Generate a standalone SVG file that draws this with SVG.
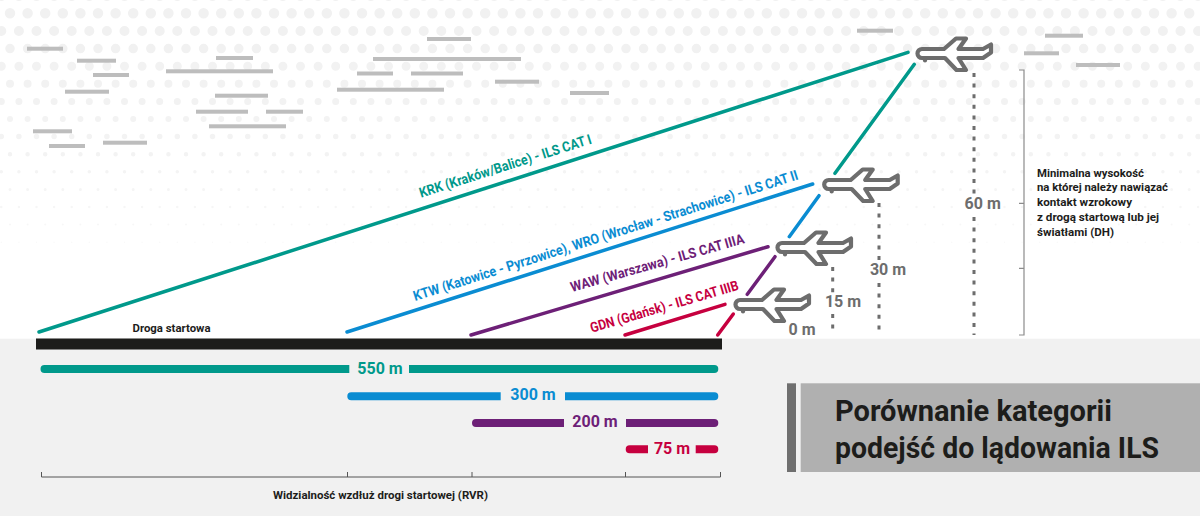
<svg xmlns="http://www.w3.org/2000/svg" width="1200" height="516" viewBox="0 0 1200 516">
<style>
text{font-family:"Roboto","Liberation Sans",sans-serif;font-weight:700}
.d{stroke-linecap:round;stroke-dasharray:0 17.6;fill:none}
.c{fill:#bdbdbd}
.l{stroke-width:3.5;stroke-linecap:round;fill:none}
.teal{stroke:#00998b}.blue{stroke:#0a8cd2}.purple{stroke:#6d2077}.red{stroke:#c6003f}
.ft{fill:#00998b}.fb{fill:#0a8cd2}.fp{fill:#6d2077}.fr{fill:#c6003f}
.lab{font-size:14px}
.val{font-size:16px;text-anchor:middle}
.h{font-size:16px;fill:#6d6d6d;text-anchor:middle}
.dk{fill:#1d1d1b}
.s{font-size:11px;fill:#1d1d1b}
.dash{stroke:#6d6d6d;stroke-width:3;stroke-dasharray:4 6.6;fill:none}
.ax{stroke:#555;stroke-width:1;fill:none}
.br{stroke:#8c8c8c;stroke-width:1.2;fill:none}
.plane{fill:#fff;stroke:#6d6d6d;stroke-width:4.2;stroke-linejoin:round;stroke-linecap:round}
</style>
<defs>
<g id="pl">
<path class="plane" d="M9 5V7.500"/>
<path class="plane" d="M6-4H28L40-14.500H50L42.500-4H67L75-8.500V-0.500L67 5H42.500L50 17H40.500L29 5H6A4.500 4.500 0 0 1 6-4Z"/>
</g>
</defs>
<rect width="1200" height="516" fill="#fff"/>
<g id="sky">
<line class="d" x1="1.300" y1="-4.300" x2="1200" y2="-4.300" stroke="#f1f1f1" stroke-width="10.500"/>
<line class="d" x1="10" y1="13.300" x2="1200" y2="13.300" stroke="#f1f1f1" stroke-width="10.500"/>
<line class="d" x1="1.300" y1="31" x2="1200" y2="31" stroke="#f1f1f1" stroke-width="10"/>
<line class="d" x1="10" y1="48.600" x2="1200" y2="48.600" stroke="#f1f1f1" stroke-width="9.500"/>
<line class="d" x1="1.300" y1="66.200" x2="1200" y2="66.200" stroke="#f2f2f2" stroke-width="9"/>
<line class="d" x1="10" y1="83.800" x2="1200" y2="83.800" stroke="#f2f2f2" stroke-width="8"/>
<line class="d" x1="1.300" y1="101.400" x2="1200" y2="101.400" stroke="#f2f2f2" stroke-width="7"/>
<line class="d" x1="10" y1="119" x2="1200" y2="119" stroke="#f3f3f3" stroke-width="6"/>
<line class="d" x1="1.300" y1="136.600" x2="1200" y2="136.600" stroke="#f3f3f3" stroke-width="5.500"/>
<line class="d" x1="10" y1="154.200" x2="1200" y2="154.200" stroke="#f3f3f3" stroke-width="4.500"/>
<line class="d" x1="1.300" y1="171.800" x2="1200" y2="171.800" stroke="#f4f4f4" stroke-width="3.500"/>
<line class="d" x1="10" y1="189.400" x2="1200" y2="189.400" stroke="#f5f5f5" stroke-width="3"/>
<line class="d" x1="1.300" y1="207" x2="1200" y2="207" stroke="#f6f6f6" stroke-width="2.500"/>
<line class="d" x1="10" y1="224.600" x2="1200" y2="224.600" stroke="#f7f7f7" stroke-width="2"/>
<line class="d" x1="1.300" y1="242.200" x2="1200" y2="242.200" stroke="#f9f9f9" stroke-width="1.500"/>
</g>
<g id="clouds">
<rect class="c" x="27" y="46.700" width="36" height="4"/><rect class="c" x="77" y="58.700" width="39" height="4"/>
<rect class="c" x="93" y="73" width="36" height="4"/><rect class="c" x="65" y="89.700" width="44" height="4"/>
<rect class="c" x="166" y="69.300" width="107" height="4"/><rect class="c" x="216" y="56" width="37" height="4"/>
<rect class="c" x="215" y="93.700" width="53" height="4"/><rect class="c" x="196" y="109.700" width="52" height="4"/>
<rect class="c" x="266" y="109.700" width="37" height="4"/><rect class="c" x="209" y="124.300" width="77" height="4"/>
<rect class="c" x="33" y="129.300" width="39" height="4"/><rect class="c" x="49" y="144" width="36" height="4"/>
<rect class="c" x="103" y="140.700" width="44" height="4"/><rect class="c" x="427" y="37" width="44" height="4"/>
<rect class="c" x="373" y="57" width="148" height="4"/><rect class="c" x="357" y="71.500" width="36" height="4"/>
<rect class="c" x="411" y="71.500" width="52" height="4"/><rect class="c" x="337" y="87.700" width="107" height="4"/>
<rect class="c" x="495" y="79.700" width="44" height="4"/><rect class="c" x="570" y="91" width="39" height="4"/>
<rect class="c" x="857" y="28.700" width="36" height="4"/><rect class="c" x="1045" y="33.700" width="38" height="4"/>
<rect class="c" x="1024" y="51.300" width="35" height="4"/><rect class="c" x="1076" y="63" width="44" height="4"/>
</g>
<g id="ground">
<rect y="338.700" width="1200" height="177.300" fill="#f1f1f1"/>
<rect x="36" y="338.500" width="686" height="11" fill="#1d1d1b"/>
</g>
<g id="connectors">
<path class="l teal" d="M39 332L908 52.300M914.300 64.300L835 173.300"/>
<path class="l blue" d="M347 332L812.700 184M819 195.700L789.300 236.700"/>
<path class="l purple" d="M471 335L768 246.700M775 256.700L747.300 294.300"/>
<path class="l red" d="M625 335L725 304.300M733.300 314L717.700 335"/>
<path class="dash" d="M974 73V195M974 217V335"/>
<path class="dash" d="M879 203V261M879 283V335"/>
<path class="dash" d="M832.700 267V293M832.700 314V335"/>
<path class="br" d="M1019 70H1024V335H1019M1019 203.300H1024M1019 268.300H1024"/>
<path class="ax" d="M41.500 472V477H720.500V472M347.500 472V477M472 472V477M625.500 472V477"/>
</g>
<g id="plane-60"><use href="#pl" x="916" y="53"/></g>
<g id="plane-30"><use href="#pl" x="822.700" y="184"/></g>
<g id="plane-15"><use href="#pl" x="776" y="247"/></g>
<g id="plane-0"><use href="#pl" x="734" y="304"/></g>
<g id="labels">
<text class="lab ft" transform="translate(421 197.700) rotate(-17.600)" textLength="180" lengthAdjust="spacingAndGlyphs">KRK (Kraków/Balice) - ILS CAT I</text>
<text class="lab fb" transform="translate(415 301) rotate(-17.600)" textLength="403" lengthAdjust="spacingAndGlyphs">KTW (Katowice - Pyrzowice), WRO (Wrocław - Strachowice) - ILS CAT II</text>
<text class="lab fp" transform="translate(572 292) rotate(-15.800)" textLength="180" lengthAdjust="spacingAndGlyphs">WAW (Warszawa) - ILS CAT IIIA</text>
<text class="lab fr" transform="translate(591.700 332.700) rotate(-16.300)" textLength="154" lengthAdjust="spacingAndGlyphs">GDN (Gdańsk) - ILS CAT IIIB</text>
<text class="h" x="982.700" y="209">60 m</text>
<text class="h" x="888" y="275">30 m</text>
<text class="h" x="843" y="307">15 m</text>
<text class="h" x="802" y="334.500">0 m</text>
<text class="s" x="132.500" y="332" textLength="78" lengthAdjust="spacingAndGlyphs">Droga startowa</text>
<text class="s" x="273" y="498.500" textLength="215" lengthAdjust="spacingAndGlyphs">Widzialność wzdłuż drogi startowej (RVR)</text>
<text class="s" x="1037" y="176.500" textLength="107" lengthAdjust="spacingAndGlyphs">Minimalna wysokość</text>
<text class="s" x="1037" y="191.300" textLength="131" lengthAdjust="spacingAndGlyphs">na której należy nawiązać</text>
<text class="s" x="1037" y="206" textLength="95" lengthAdjust="spacingAndGlyphs">kontakt wzrokowy</text>
<text class="s" x="1037" y="221" textLength="122" lengthAdjust="spacingAndGlyphs">z drogą startową lub jej</text>
<text class="s" x="1037" y="235.700" textLength="77" lengthAdjust="spacingAndGlyphs">światłami (DH)</text>
</g>
<g id="rvr-bars">
<path class="ft" d="M349.300 365H44.500a4 4 0 0 0 0 8H349.300ZM409 365H714.300a4 4 0 0 1 0 8H409Z"/>
<path class="fb" d="M500.700 392.300H351.300a4 4 0 0 0 0 8H500.700ZM565 392.300H714.300a4 4 0 0 1 0 8H565Z"/>
<path class="fp" d="M564 419H476a4 4 0 0 0 0 8H564ZM626 419H714.300a4 4 0 0 1 0 8H626Z"/>
<path class="fr" d="M648 445.300H629.700a4 4 0 0 0 0 8H648ZM695.700 445.300H714.300a4 4 0 0 1 0 8H695.700Z"/>
<text class="val ft" x="380" y="373.700">550 m</text>
<text class="val fb" x="533" y="400">300 m</text>
<text class="val fp" x="595" y="427">200 m</text>
<text class="val fr" x="672" y="454">75 m</text>
</g>
<g id="title">
<rect x="787" y="383.300" width="9" height="88.700" fill="#6f6f6f"/>
<rect x="800.700" y="383.300" width="399.300" height="88.700" fill="#b0b0b0"/>
<text x="835" y="420.700" font-size="29" class="dk" textLength="277" lengthAdjust="spacingAndGlyphs">Porównanie kategorii</text>
<text x="835" y="457.700" font-size="29" class="dk" textLength="324" lengthAdjust="spacingAndGlyphs">podejść do lądowania ILS</text>
</g>
</svg>
